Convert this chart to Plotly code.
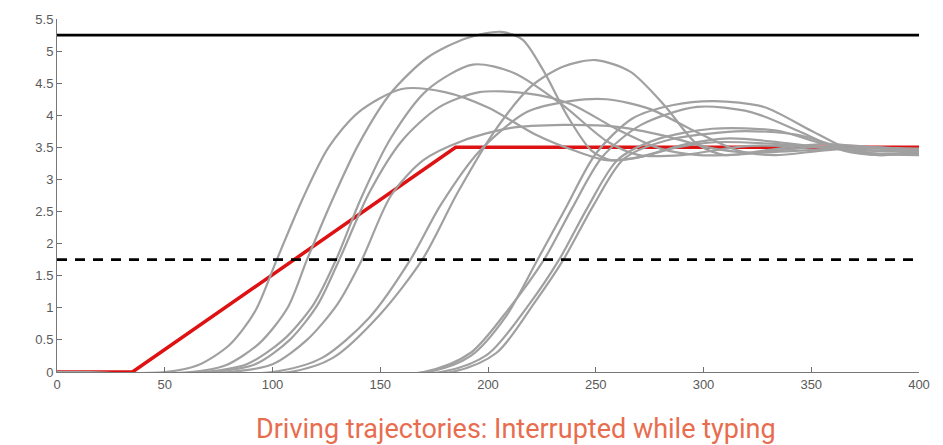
import plotly.graph_objects as go

# Reference lines
upper_limit = 5.25
lower_limit = 1.75
x_span = [0, 400]

# Ideal (red) trajectory
ideal_x = [0, 35, 185, 400]
ideal_y = [0, 0, 3.5, 3.5]

# Gray driver trajectories (x, y)
trajectories = [
    ([0, 50, 65, 80, 92, 102, 114, 126, 140, 160, 180, 200, 222, 240, 255, 272, 292, 312, 335, 360, 385, 400],
     [0, 0, 0.1, 0.42, 0.95, 1.75, 2.7, 3.5, 4.05, 4.41, 4.36, 4.12, 3.7, 3.45, 3.3, 3.36, 3.55, 3.64, 3.58, 3.48, 3.44, 3.42]),
    ([0, 62, 78, 94, 107, 116, 128, 140, 155, 172, 190, 206, 216, 226, 237, 248, 257, 268, 285, 305, 335, 365, 400],
     [0, 0, 0.1, 0.45, 1.0, 1.75, 2.7, 3.55, 4.35, 4.9, 5.2, 5.3, 5.18, 4.68, 3.98, 3.45, 3.3, 3.33, 3.48, 3.58, 3.55, 3.47, 3.43]),
    ([0, 68, 88, 105, 119, 129.5, 141, 155, 172, 193, 212, 235, 255, 270, 290, 320, 360, 400],
     [0, 0, 0.12, 0.5, 1.05, 1.75, 2.7, 3.65, 4.4, 4.79, 4.66, 4.15, 3.6, 3.38, 3.38, 3.52, 3.5, 3.46]),
    ([0, 72, 92, 108, 121, 131, 145, 160, 177, 196, 218, 238, 260, 280, 298, 320, 350, 400],
     [0, 0, 0.12, 0.5, 1.05, 1.75, 2.8, 3.6, 4.12, 4.36, 4.34, 4.18, 3.78, 3.48, 3.38, 3.4, 3.5, 3.48]),
    ([0, 80, 100, 116, 130, 141.5, 155, 170, 188, 210, 235, 260, 282, 302, 320, 345, 375, 400],
     [0, 0, 0.12, 0.5, 1.05, 1.75, 2.75, 3.3, 3.6, 3.8, 3.85, 3.82, 3.68, 3.5, 3.42, 3.45, 3.5, 3.45]),
    ([0, 108, 128, 150, 169.5, 186, 203, 220, 235, 250, 266, 282, 297, 310, 328, 355, 380, 400],
     [0, 0, 0.22, 0.9, 1.75, 2.8, 3.75, 4.45, 4.76, 4.86, 4.68, 4.15, 3.55, 3.38, 3.45, 3.55, 3.5, 3.45]),
    ([0, 100, 123, 145, 164, 178, 196, 218, 238, 255, 275, 296, 316, 333, 355, 380, 400],
     [0, 0, 0.22, 0.85, 1.75, 2.6, 3.44, 4.05, 4.22, 4.25, 4.1, 3.75, 3.45, 3.38, 3.45, 3.5, 3.45]),
    ([0, 172, 192, 208, 223, 236, 250, 267, 286, 305, 328, 350, 368, 382, 400],
     [0, 0, 0.25, 0.85, 1.75, 2.55, 3.4, 3.95, 4.16, 4.22, 4.13, 3.76, 3.46, 3.38, 3.44]),
    ([0, 170, 192, 210, 226, 239, 253, 271, 297, 322, 345, 365, 382, 400],
     [0, 0, 0.3, 1.0, 1.75, 2.55, 3.35, 3.85, 4.13, 4.05, 3.74, 3.45, 3.38, 3.42]),
    ([0, 178, 200, 219, 233, 246, 260, 278, 304, 334, 355, 374, 388, 400],
     [0, 0, 0.28, 1.05, 1.75, 2.55, 3.3, 3.62, 3.79, 3.76, 3.56, 3.42, 3.4, 3.4]),
    ([0, 183, 204, 222, 235, 249, 263, 282, 315, 343, 364, 380, 400],
     [0, 0, 0.3, 1.1, 1.75, 2.6, 3.32, 3.6, 3.75, 3.7, 3.5, 3.4, 3.38]),
]

x_ticks = [0, 50, 100, 150, 200, 250, 300, 350, 400]
y_ticks = [0, 0.5, 1, 1.5, 2, 2.5, 3, 3.5, 4, 4.5, 5, 5.5]
y_tick_text = ["0", "0.5", "1", "1.5", "2", "2.5", "3", "3.5", "4", "4.5", "5", "5.5"]
title_text = "Driving trajectories: Interrupted while typing"

fig = go.Figure()

fig.add_trace(go.Scatter(x=ideal_x, y=ideal_y, mode="lines",
                         line=dict(color="rgb(222,18,18)", width=3.5), hoverinfo="skip"))

for tx, ty in trajectories:
    fig.add_trace(go.Scatter(x=tx, y=ty, mode="lines",
                             line=dict(color="rgb(160,160,160)", width=2.2, shape="spline", smoothing=0.8),
                             hoverinfo="skip"))

fig.add_trace(go.Scatter(x=x_span, y=[upper_limit, upper_limit], mode="lines",
                         line=dict(color="black", width=2.8), hoverinfo="skip"))
fig.add_trace(go.Scatter(x=x_span, y=[lower_limit, lower_limit], mode="lines",
                         line=dict(color="black", width=2.8, dash="10px,8px"), hoverinfo="skip"))

axis_font = dict(family="Liberation Sans, Arial, sans-serif", size=13, color="rgb(90,90,90)")

fig.update_layout(
    width=943, height=445,
    margin=dict(l=57, r=24, t=14, b=73),
    paper_bgcolor="white", plot_bgcolor="white",
    showlegend=False,
    xaxis=dict(range=[0, 400], tickvals=x_ticks, ticks="inside", ticklen=5, tickcolor="rgb(110,110,110)",
               showgrid=False, zeroline=False, showline=True, linecolor="rgb(120,120,120)", linewidth=1,
               tickfont=axis_font, fixedrange=True),
    yaxis=dict(range=[0, 5.5], tickvals=y_ticks, ticktext=y_tick_text, ticks="inside", ticklen=5,
               tickcolor="rgb(110,110,110)", showgrid=False, zeroline=False, showline=True,
               linecolor="rgb(120,120,120)", linewidth=1, tickfont=axis_font, fixedrange=True),
    annotations=[dict(text=title_text, xref="paper", yref="paper", x=0.5325, y=-0.162,
                      xanchor="center", yanchor="middle", showarrow=False,
                      font=dict(family="Roboto, sans-serif", size=27, color="rgb(232,108,78)"))],
)

fig.write_html("out.html")
